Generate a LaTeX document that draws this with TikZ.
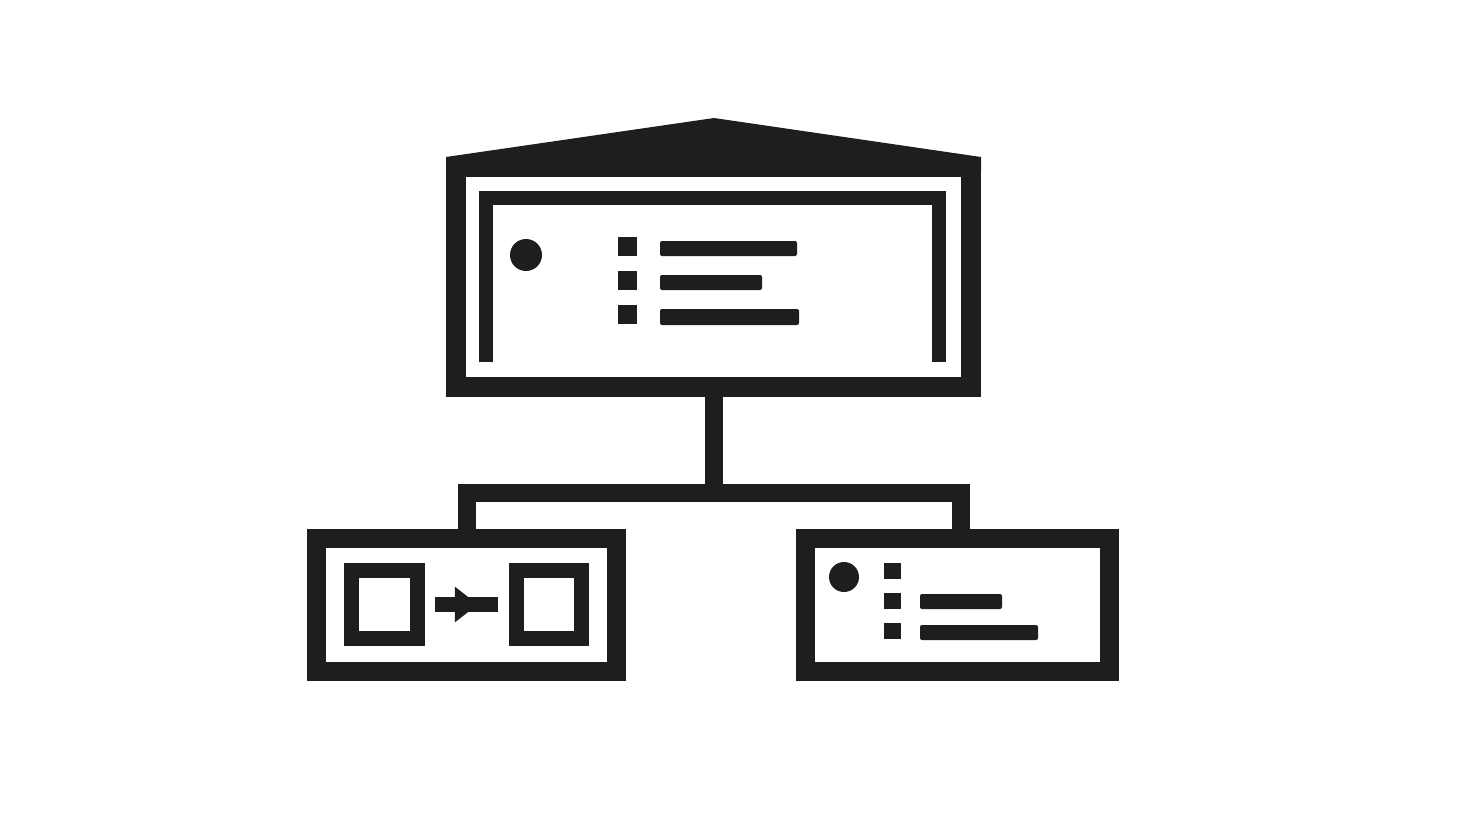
\documentclass[tikz,border=0pt]{standalone}
\usetikzlibrary{arrows.meta,decorations.markings}
\definecolor{ink}{HTML}{1E1E1E}
\begin{document}
\begin{tikzpicture}[x=1pt, y=-1pt, >=Triangle,
   box/.style={draw=ink, fill=white, inner sep=0pt},
   sq/.style={draw=ink, line width=15pt, inner sep=0pt},
   link/.style={draw=ink, line width=18pt},
   flow/.style={draw=ink, line width=15pt, shorten <=10pt, shorten >=11pt,
      postaction=decorate, decoration={markings,
      mark=at position 0.63 with {\arrow[ink]{Triangle[length=23pt,width=34pt]}}}},
   bar/.style={fill=ink, rounded corners=2pt}]
   \useasboundingbox (0,0) rectangle (1472,832);
   % main unit
   \fill[ink] (446,170) -- (446,157) -- (714,118) -- (981,157) -- (981,170) -- cycle;
   \node (top) at (713.5,277) [box, line width=20pt, minimum width=515pt, minimum height=220pt] {};
   \draw[ink, line width=14pt] (486,362) -- (486,198) -- (939,198) -- (939,362);
   \fill[ink] (526,255) circle[radius=16pt];
   \foreach \y in {246.5,280.5,314.5}
      \fill[ink] (618,\y-9.5) rectangle +(19,19);
   \fill[bar] (660,241) rectangle (797,256);
   \fill[bar] (660,275) rectangle (762,290);
   \fill[bar] (660,309) rectangle (799,325);
   % sub units
   \node (left) at (466.5,605) [box, line width=19pt, minimum width=300pt, minimum height=133pt] {};
   \node (right) at (957.5,605) [box, line width=19pt, minimum width=304pt, minimum height=133pt] {};
   \coordinate (bus) at (712,493);
   \draw[link] (top.south) -- (top.south |- bus);
   \draw[link] (left.north) -- ++(0,-36) -| ([xshift=3.5pt]right.north);
   % left: step to step
   \node (s1) at (384.5,604.5) [sq, minimum width=66pt, minimum height=68pt] {};
   \node (s2) at (549,604.5) [sq, minimum width=65pt, minimum height=68pt] {};
   \draw[flow] (s1) -- (s2);
   % right: list
   \fill[ink] (844,577) circle[radius=15pt];
   \foreach \y in {570.5,600.5,631}
      \fill[ink] (884,\y-8) rectangle +(17,16);
   \fill[bar] (920,594) rectangle (1002,609);
   \fill[bar] (920,625) rectangle (1038,640);
\end{tikzpicture}
\end{document}
